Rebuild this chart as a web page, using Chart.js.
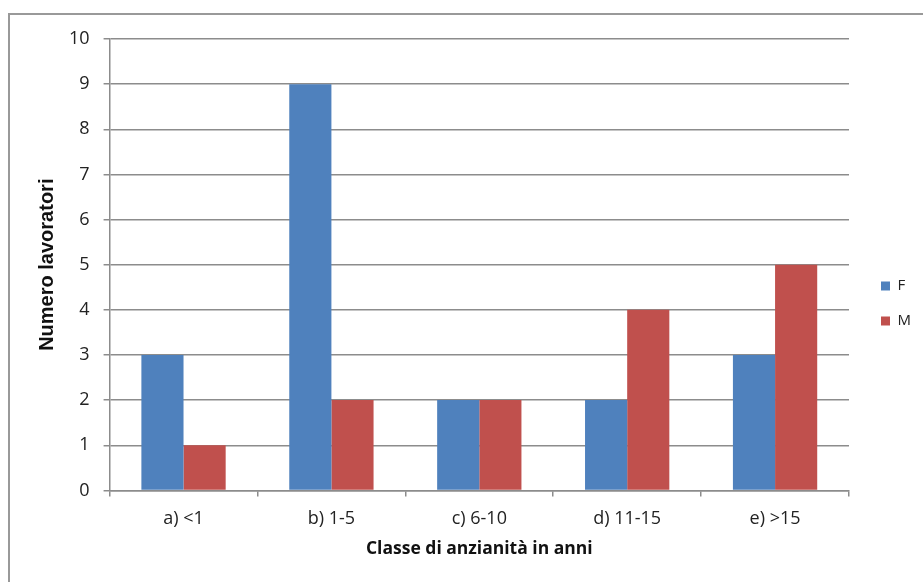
<!DOCTYPE html>
<html>
<head>
<meta charset="utf-8">
<script src="https://cdn.jsdelivr.net/npm/chart.js@4"></script>
<style>
  html, body { margin: 0; padding: 0; background: #fff; overflow: hidden; }
  #frame { position: absolute; left: 8px; top: 13px; width: 940px; height: 600px;
           border: 2px solid #999; box-sizing: border-box; }
  #wrap { position: absolute; left: 0; top: 0; width: 923px; height: 582px; }
</style>
</head>
<body>
<div id="frame"></div>
<div id="wrap"><canvas id="grafico"></canvas></div>
<script>
// categorie e valori
const categorie = ["a) <1", "b) 1-5", "c) 6-10", "d) 11-15", "e) >15"];
const valoriF = [3, 9, 2, 2, 3];
const valoriM = [1, 2, 2, 4, 5];
const etichetteSerie = ["F", "M"];

const FONT = "'Open Sans', sans-serif";
const GRIGIO = "#8c8c8c";

// sposta la legenda un po' a destra e in basso, come nell'originale
const spostaLegenda = {
  id: "spostaLegenda",
  afterLayout(chart) {
    const lg = chart.legend;
    if (!lg) return;
    lg.left += 12; lg.right += 12;
    lg.top += 2; lg.bottom += 2;
  }
};

const ctx = document.getElementById("grafico").getContext("2d");
new Chart(ctx, {
  type: "bar",
  data: {
    labels: categorie,
    datasets: [
      { label: etichetteSerie[0], data: valoriF, backgroundColor: "#4F81BD" },
      { label: etichetteSerie[1], data: valoriM, backgroundColor: "#C0504D" }
    ]
  },
  plugins: [spostaLegenda],
  options: {
    responsive: true,
    maintainAspectRatio: false,
    animation: false,
    datasets: { bar: { categoryPercentage: 0.57, barPercentage: 1.0 } },
    layout: { padding: { left: 35, right: 14, top: 39, bottom: 18 } },
    plugins: {
      tooltip: { enabled: false },
      legend: {
        position: "right",
        labels: {
          boxWidth: 9, boxHeight: 9, padding: 20,
          color: "#222", font: { family: FONT, size: 15 }
        }
      }
    },
    scales: {
      x: {
        // il padding dei tick viene contato due volte nell'altezza: lo togliamo
        afterFit(scale) { scale.height -= 12; },
        grid: { offset: true, drawOnChartArea: false, drawTicks: true, tickLength: 6,
                color: GRIGIO, lineWidth: 1.5 },
        border: { color: GRIGIO, width: 1.5 },
        ticks: { color: "#222", font: { family: FONT, size: 18 }, padding: 12 },
        title: { display: true, text: "Classe di anzianità in anni", color: "#111",
                 font: { family: FONT, size: 17.5, weight: "bold" }, padding: { top: 9, bottom: 4 } }
      },
      y: {
        min: 0, max: 10,
        afterFit(scale) { scale.width -= 14; },
        grid: { color: GRIGIO, lineWidth: 1.5, drawTicks: true, tickLength: 6 },
        border: { color: GRIGIO, width: 1.5 },
        ticks: { stepSize: 1, color: "#222", font: { family: FONT, size: 18 }, padding: 14 },
        title: { display: true, text: "Numero lavoratori", color: "#111",
                 font: { family: "'Liberation Sans', Arial, sans-serif", size: 20, weight: "bold" },
                 padding: { top: 0, bottom: 10 } }
      }
    }
  }
});
</script>
</body>
</html>
